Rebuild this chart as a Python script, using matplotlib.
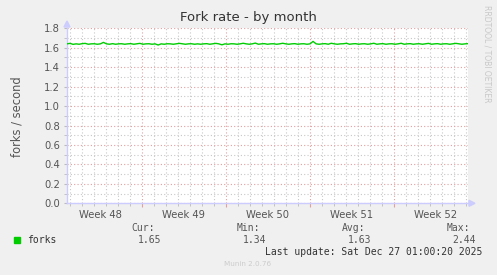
import matplotlib
matplotlib.use("Agg")
import matplotlib.pyplot as plt
import numpy as np

title = "Fork rate - by month"
ylabel = "forks / second"
week_labels = ["Week 48", "Week 49", "Week 50", "Week 51", "Week 52"]
yticks = [0.0, 0.2, 0.4, 0.6, 0.8, 1.0, 1.2, 1.4, 1.6, 1.8]

# fork rate samples (roughly every 6 hours over the month)
forks = [
    1.640, 1.645, 1.635, 1.640, 1.636, 1.642, 1.645, 1.636, 1.640, 1.641,
    1.636, 1.640, 1.655, 1.640, 1.636, 1.642, 1.636, 1.640, 1.641, 1.636,
    1.640, 1.642, 1.636, 1.640, 1.645, 1.636, 1.640, 1.641, 1.636, 1.640,
    1.628, 1.640, 1.636, 1.641, 1.640, 1.636, 1.640, 1.645, 1.640, 1.636,
    1.640, 1.641, 1.636, 1.640, 1.636, 1.640, 1.642, 1.636, 1.640, 1.645,
    1.640, 1.630, 1.640, 1.636, 1.641, 1.640, 1.636, 1.640, 1.646, 1.640,
    1.636, 1.640, 1.648, 1.636, 1.640, 1.642, 1.636, 1.640, 1.641, 1.636,
    1.640, 1.646, 1.640, 1.636, 1.640, 1.642, 1.636, 1.640, 1.641, 1.636,
    1.640, 1.665, 1.640, 1.636, 1.640, 1.642, 1.636, 1.646, 1.640, 1.636,
    1.640, 1.641, 1.646, 1.636, 1.640, 1.642, 1.636, 1.640, 1.641, 1.636,
    1.640, 1.646, 1.636, 1.640, 1.642, 1.636, 1.640, 1.641, 1.636, 1.640,
    1.646, 1.636, 1.640, 1.642, 1.636, 1.640, 1.641, 1.636, 1.640, 1.645,
    1.636, 1.640, 1.642, 1.636, 1.640, 1.641, 1.636, 1.640, 1.645, 1.640,
    1.636, 1.640, 1.642,
]
legend_name = "forks"
stat_names = ["Cur:", "Min:", "Avg:", "Max:"]
stat_values = ["1.65", "1.34", "1.63", "2.44"]
last_update = "Last update: Sat Dec 27 01:00:20 2025"
footer = "Munin 2.0.76"
side_text = "RRDTOOL / TOBI OETIKER"

W, H = 497, 275
fig = plt.figure(figsize=(W / 100, H / 100), dpi=100, facecolor="#f0f0f0")
L, R, T, B = 67, 468, 28.3, 203.3
ax = fig.add_axes([L / W, 1 - B / H, (R - L) / W, (B - T) / H])
ax.set_facecolor("white")

span_days = 33.42
x = np.linspace(0, span_days, len(forks))
ax.plot(x, forks, color="#00cc00", lw=1.0, zorder=5)

ax.set_xlim(0, span_days)
ax.set_ylim(0, 1.8)

# grid
ax.set_yticks(yticks)
ax.set_yticks(np.arange(0.1, 1.8, 0.2), minor=True)
majors_x = [6.25, 13.25, 20.25, 27.25]
minors_x = [0.25 + k for k in range(34) if 0.25 + k < span_days]
ax.set_xticks(majors_x)
ax.set_xticks(minors_x, minor=True)
ax.grid(which="minor", color="#c8c8c8", ls=(0, (1, 2)), lw=0.8)
ax.grid(which="major", color="#e0a0a0", ls=(0, (1, 2)), lw=0.8)
ax.set_axisbelow(True)
ax.set_xticklabels([])
for wx, lab in zip([2.75, 9.75, 16.75, 23.75, 30.75], week_labels):
    ax.text(wx, -0.07, lab, ha="center", va="top", fontsize=7.2, color="#555555",
            transform=ax.transData)
ax.set_yticklabels([f"{v:.1f}" for v in yticks], fontsize=7.2, color="#555555")
ax.tick_params(axis="y", which="both", length=2, color="#bbbbbb", pad=3)
ax.tick_params(axis="x", which="major", length=3, color="#e0a0a0", direction="out")
ax.tick_params(axis="x", which="minor", length=2, color="#bbbbbb", direction="out")

for s in ["top", "right"]:
    ax.spines[s].set_visible(False)
ax.spines["left"].set_color("#ccccff")
ax.spines["bottom"].set_color("#ccccff")
ax.spines["left"].set_linewidth(1)
ax.spines["bottom"].set_linewidth(1)

# axis arrows
fig.patches.append(matplotlib.patches.Polygon(
    [[(L - 3) / W, 1 - 27 / H], [(L + 3) / W, 1 - 27 / H], [L / W, 1 - 21 / H]],
    closed=True, transform=fig.transFigure, color="#ccccff"))
fig.patches.append(matplotlib.patches.Polygon(
    [[(R + 1) / W, 1 - (B - 3) / H], [(R + 1) / W, 1 - (B + 3) / H], [(R + 7) / W, 1 - B / H]],
    closed=True, transform=fig.transFigure, color="#ccccff"))

fig.text(248 / W, 1 - 18 / H, title, ha="center", va="center", fontsize=9.5, color="#333333")
fig.text(17 / W, 1 - 117 / H, ylabel, ha="center", va="center", rotation=90,
         fontsize=8.3, color="#555555")
fig.text(487 / W, 1 - 54 / H, side_text, ha="center", va="center", rotation=270,
         fontsize=5.5, color="#c8c8c8")

mono = "DejaVu Sans Mono"
fig.add_artist(matplotlib.patches.Rectangle((14 / W, 1 - 243 / H), 6 / W, 6 / H,
                                            transform=fig.transFigure, color="#00cc00"))
fig.text(27 / W, 1 - 240 / H, legend_name, ha="left", va="center", family=mono,
         fontsize=7, color="#333333")
stat_right = [155, 260, 365, 470]
for xr, n, v in zip(stat_right, stat_names, stat_values):
    fig.text(xr / W, 1 - 228 / H, n, ha="right", va="center", family=mono,
             fontsize=7, color="#555555")
    fig.text((xr + 6) / W, 1 - 240 / H, v, ha="right", va="center", family=mono,
             fontsize=7, color="#555555")
fig.text(482 / W, 1 - 252 / H, last_update, ha="right", va="center", family=mono,
         fontsize=7, color="#333333")
fig.text(248 / W, 1 - 264 / H, footer, ha="center", va="center", fontsize=5.2,
         color="#cccccc")

fig.savefig("out.png", dpi=100, facecolor=fig.get_facecolor())
